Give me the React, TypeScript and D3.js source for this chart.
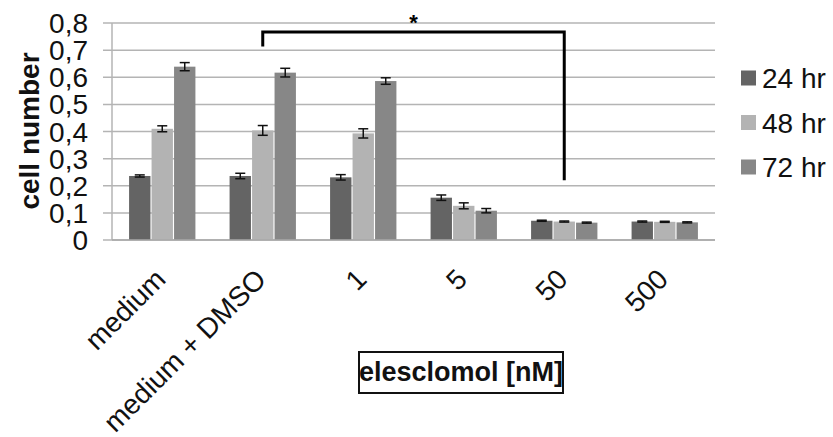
import * as d3 from "d3";

const categories = ["medium", "medium + DMSO", "1", "5", "50", "500"];
const seriesNames = ["24 hr", "48 hr", "72 hr"];
const mean24 = [0.236, 0.236, 0.231, 0.156, 0.071, 0.068];
const mean48 = [0.41, 0.404, 0.393, 0.126, 0.068, 0.067];
const mean72 = [0.639, 0.617, 0.586, 0.108, 0.064, 0.065];
const err24 = [0.004, 0.01, 0.01, 0.01, 0.002, 0.002];
const err48 = [0.011, 0.018, 0.017, 0.011, 0.002, 0.002];
const err72 = [0.015, 0.016, 0.012, 0.008, 0.002, 0.002];
const yTicks = [0, 0.1, 0.2, 0.3, 0.4, 0.5, 0.6, 0.7, 0.8];

// significance bracket: from / to category, heights in data units
const bracketFrom = "medium + DMSO";
const bracketTo = "50";
const bracketTop = 0.767;
const bracketLeftEnd = 0.713;
const bracketRightEnd = 0.22;

const colors = ["#646464", "#b3b3b3", "#878787"];
const font = "'Liberation Sans', Arial, sans-serif";

export default function App() {
  const W = 833;
  const H = 437;
  const left = 112;
  const right = 715;
  const top = 23;
  const bottom = 240;

  const x = d3.scaleBand().domain(categories).range([left, right]);
  const xs = d3
    .scaleBand()
    .domain(seriesNames)
    .range([x.bandwidth() * 0.17, x.bandwidth() * 0.83])
    .paddingInner(0.05);
  const y = d3.scaleLinear().domain([0, 0.8]).range([bottom, top]);

  const means = [mean24, mean48, mean72];
  const errs = [err24, err48, err72];
  const fmt = (d) => (d === 0 ? "0" : d3.format(".1f")(d).replace(".", ","));

  const bx1 = x(bracketFrom) + x.bandwidth() / 2;
  const bx2 = x(bracketTo) + x.bandwidth() / 2;

  return (
    <svg
      width={W}
      height={H}
      style={{ position: "absolute", left: 0, top: 0, background: "#fff" }}
      fontFamily={font}
    >
      {/* grid */}
      {yTicks.map((t) => (
        <g key={t}>
          <line x1={left - 9} x2={right} y1={y(t)} y2={y(t)} stroke="#b4b4b4" strokeWidth={1.5} />
          <text x={88} y={y(t)} dy="0.36em" textAnchor="end" fontSize={28} fill="#111">
            {fmt(t)}
          </text>
        </g>
      ))}
      <line x1={left} x2={left} y1={top} y2={bottom} stroke="#b4b4b4" strokeWidth={1.5} />

      {/* bars */}
      {seriesNames.map((s, si) =>
        categories.map((c, ci) => {
          const bx = x(c) + xs(s);
          const v = means[si][ci];
          return (
            <rect
              key={s + c}
              x={bx}
              y={y(v)}
              width={xs.bandwidth()}
              height={bottom - y(v)}
              fill={colors[si]}
            />
          );
        })
      )}
      <line x1={left} x2={right} y1={bottom} y2={bottom} stroke="#a8a8a8" strokeWidth={1.5} />

      {/* error bars */}
      {seriesNames.map((s, si) =>
        categories.map((c, ci) => {
          const cx = x(c) + xs(s) + xs.bandwidth() / 2;
          const v = means[si][ci];
          const e = errs[si][ci];
          return (
            <g key={"e" + s + c} stroke="#111" strokeWidth={1.5}>
              <line x1={cx} x2={cx} y1={y(v + e)} y2={y(v - e)} />
              <line x1={cx - 5} x2={cx + 5} y1={y(v + e)} y2={y(v + e)} />
              <line x1={cx - 5} x2={cx + 5} y1={y(v - e)} y2={y(v - e)} />
            </g>
          );
        })
      )}

      {/* bracket */}
      <path
        d={`M${bx1},${y(bracketLeftEnd)}V${y(bracketTop)}H${bx2}V${y(bracketRightEnd)}`}
        fill="none"
        stroke="#000"
        strokeWidth={3}
      />
      <text x={(bx1 + bx2) / 2} y={30} textAnchor="middle" fontSize={22} fontWeight="bold">
        *
      </text>

      {/* x labels */}
      {categories.map((c) => {
        const lx = x(c) + x.bandwidth() / 2 + 5;
        const ly = 281;
        return (
          <text
            key={c}
            x={lx}
            y={ly}
            textAnchor="end"
            fontSize={28}
            fill="#111"
            transform={`rotate(-45,${lx},${ly})`}
          >
            {c}
          </text>
        );
      })}

      {/* y title */}
      <text
        x={0}
        y={0}
        transform={`translate(39,131) rotate(-90)`}
        textAnchor="middle"
        fontSize={28}
        fontWeight="bold"
        fill="#111"
      >
        cell number
      </text>

      {/* x title */}
      <rect x={359} y={352} width={204} height={41} fill="none" stroke="#111" strokeWidth={2} />
      <text x={461} y={381} textAnchor="middle" fontSize={27} fontWeight="bold" fill="#111">
        elesclomol [nM]
      </text>

      {/* legend */}
      {seriesNames.map((s, i) => {
        const cy = 78 + i * 44.5;
        return (
          <g key={"l" + s}>
            <rect x={741} y={cy - 7.5} width={15} height={15} fill={colors[i]} />
            <text x={762} y={cy} dy="0.36em" fontSize={28} fill="#111">
              {s}
            </text>
          </g>
        );
      })}
    </svg>
  );
}
